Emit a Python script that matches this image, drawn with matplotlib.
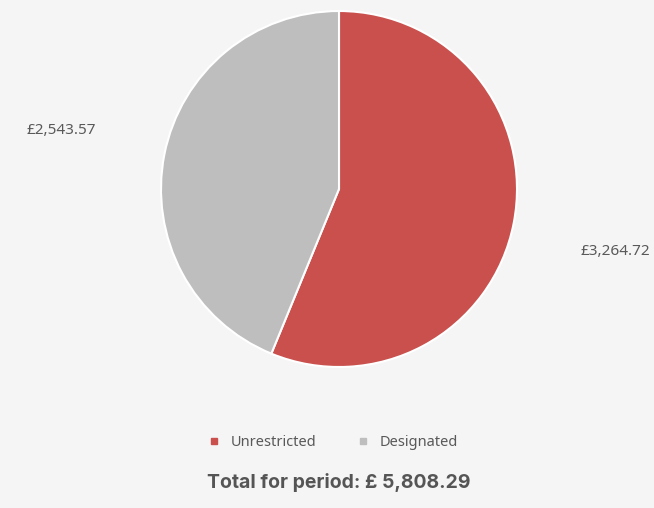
import matplotlib.pyplot as plt
from matplotlib.lines import Line2D

# Funds for the period
categories = ['Unrestricted', 'Designated']
amounts = [3264.72, 2543.57]
colors = ['#C9504D', '#BEBEBE']

bg = '#F5F5F5'
text_col = '#595959'
font = 'Noto Sans'

fig = plt.figure(figsize=(6.54, 5.08), dpi=100, facecolor=bg)
ax = fig.add_axes([161 / 654, (508 - 367) / 508, 356 / 654, 356 / 508])
ax.set_facecolor(bg)

ax.pie(amounts, colors=colors, startangle=90, counterclock=False,
       wedgeprops=dict(edgecolor='white', linewidth=1.5))
ax.set_xlim(-1, 1)
ax.set_ylim(-1, 1)
ax.set_aspect('equal')
ax.axis('off')

# value labels outside the pie
label_pos = [(1.55, -0.35), (-1.56, 0.33)]
for amt, (x, y) in zip(amounts, label_pos):
    ax.text(x, y, '£{:,.2f}'.format(amt), ha='center', va='center',
            fontsize=11, color=text_col, family=font, clip_on=False)

handles = [Line2D([], [], marker='s', linestyle='', markersize=4.5,
                  markerfacecolor=c, markeredgecolor=c) for c in colors]
fig.legend(handles, categories, loc='center', bbox_to_anchor=(0.503, 1 - 443 / 508),
           ncol=2, frameon=False, handletextpad=0.15, columnspacing=2.2,
           prop={'family': font, 'size': 10.5}, labelcolor=text_col)

fig.text(0.518, 1 - 483 / 508, 'Total for period: £ {:,.2f}'.format(sum(amounts)),
         ha='center', va='center', fontsize=14, fontweight='bold',
         color='#555555', family=['Inter', 'DejaVu Sans'])

fig.savefig('out.png', dpi=100, facecolor=bg)
